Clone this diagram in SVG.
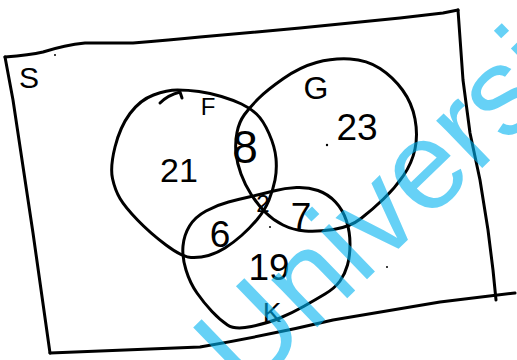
<svg xmlns="http://www.w3.org/2000/svg" width="517" height="360" viewBox="0 0 517 360">
<style>
.ink{fill:none;stroke:#000;stroke-width:3;stroke-linecap:round;stroke-linejoin:round}
.num{font-family:"Liberation Sans","DejaVu Sans",sans-serif;fill:#000;text-anchor:middle;dominant-baseline:central}
.dot{fill:#000}
.wm{font-family:"Liberation Sans",Arial,sans-serif;font-size:125px;fill:rgb(0,178,240);fill-opacity:0.6}
</style>
<rect width="517" height="360" fill="#fff"/>
<g id="universe">
<path class="ink" d="M5,57 Q30,55 43,52 Q65,45 85,43 Q110,43 133,43 Q170,40 200,37 L300,28 L400,18 L443,13 L458,10"/>
<path class="ink" d="M458,10 L463,80 L470,133 L480,180 L488,230 L493,270 L496,300"/>
<path class="ink" d="M50,353 L200,347 Q270,335 333,320 L440,302 L515,293"/>
<path class="ink" d="M5,57 L13,100 L33,233 L50,353"/>
<text class="num" x="29" y="77" font-size="30">S</text>
</g>
<g id="set-F">
<path class="ink" d="M256.5,114 Q250,108 241.5,104 Q233,100 221.5,96.5 Q210,93 199,91.5 Q188,90 177.5,90 Q167,90 153.5,95 Q140,100 130,113.5 Q120,127 115,147 Q110,167 112.5,178.5 Q115,190 120,198.5 Q125,207 137.5,220 Q150,233 166,245 Q182,257 191,257.5 Q200,258 208.5,255.5 Q217,253 225,248 Q233,243 241.5,235.5 Q250,228 257.5,219 Q265,210 269,200 Q273,190 275,180 Q277,170 276,158.5 Q275,147 269,133.5 Q263,120 256.5,114 Z"/>
<path class="ink" d="M160,103 Q168,95 180,92 L182,98"/>
<text class="num" x="208" y="106" font-size="24">F</text>
</g>
<g id="set-G">
<path class="ink" d="M244.5,114.5 Q250,107 258.5,98.5 Q267,90 283.5,78.5 Q300,67 316.5,62.5 Q333,58 350,59 Q367,60 380,68.5 Q393,77 402.5,90 Q412,103 415,119 Q418,135 415,149 Q412,163 403.5,175.5 Q395,188 383.5,199 Q372,210 361,218.5 Q350,227 333.5,229.5 Q317,232 305,231 Q293,230 283,225 Q273,220 265.5,212.5 Q258,205 251.5,195 Q245,185 241,174 Q237,163 236,153 Q235,143 237,132.5 Q239,122 244.5,114.5 Z"/>
<text class="num" x="316" y="88" font-size="32">G</text>
</g>
<g id="set-K">
<path class="ink" d="M186,270 Q182,257 183,246 Q184,235 189.5,226 Q195,217 206,211 Q217,205 228.5,202 Q240,199 251,196.5 Q262,194 273.5,191 Q285,188 296.5,187.5 Q308,187 318,190.5 Q328,194 335.5,202 Q343,210 346.5,221 Q350,232 350,244 Q350,256 347.5,265 Q345,274 340,281 Q335,288 325,294 Q315,300 303.5,306.5 Q292,313 280,318 Q268,323 251.5,326.5 Q235,330 227.5,325 Q220,320 212,311.5 Q204,303 197,293 Q190,283 186,270 Z"/>
<text class="num" x="272" y="312" font-size="28">K</text>
</g>
<g id="regions">
<text class="num" x="179" y="170" font-size="34">21</text>
<text class="num" x="245" y="147" font-size="46">8</text>
<text class="num" x="357" y="127" font-size="37">23</text>
<text class="num" x="263" y="203" font-size="24">2</text>
<text class="num" x="301" y="216" font-size="37">7</text>
<text class="num" x="220" y="234" font-size="37">6</text>
<text class="num" x="269" y="267" font-size="37">19</text>
<circle class="dot" cx="55" cy="55" r="1"/>
<circle class="dot" cx="327" cy="145" r="1.2"/>
<circle class="dot" cx="270" cy="227" r="1"/>
<circle class="dot" cx="387" cy="267" r="1"/>
</g>
<g id="watermark">
<text class="wm" transform="translate(246,396) rotate(-44)">Universi</text>
</g>
</svg>
